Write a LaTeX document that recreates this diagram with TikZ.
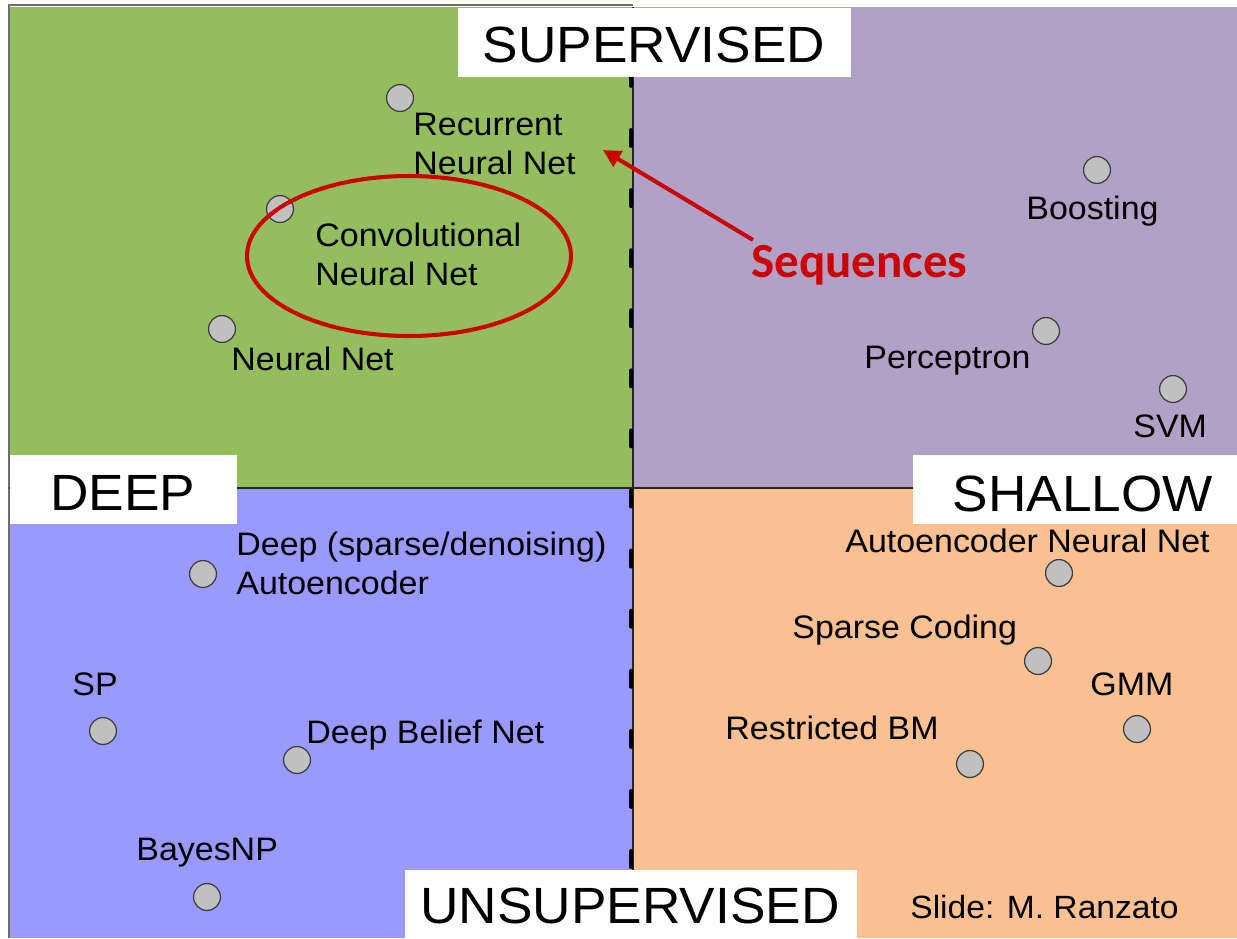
\documentclass[tikz,border=0pt]{standalone}
\usepackage{fontspec}
\setmainfont[FakeStretch=1.045]{Liberation Sans}
\newfontfamily\seqfont{Carlito}
\usetikzlibrary{arrows.meta}
\definecolor{qgreen}{RGB}{148,189,94}
\definecolor{qpurple}{RGB}{177,161,199}
\definecolor{qblue}{RGB}{153,153,255}
\definecolor{qorange}{RGB}{249,192,146}
\definecolor{ptfill}{RGB}{192,192,192}
\definecolor{ptborder}{RGB}{60,60,60}
\definecolor{seqred}{RGB}{204,0,0}
\definecolor{framegrey}{RGB}{110,110,110}
\begin{document}
\begin{tikzpicture}[x=0.02cm,y=-0.02cm,
  pt/.style={circle,draw=ptborder,fill=ptfill,line width=0.7pt,minimum size=15.3pt,inner sep=0pt},
  lbl/.style={font=\fontsize{18.5}{22}\selectfont,inner sep=0pt,anchor=base west},
  headtxt/.style={font=\fontsize{29}{34}\selectfont,inner sep=0pt,anchor=base},
  headbox/.style={fill=white},
  divider/.style={draw=black!85,line width=0.6pt},
  dashdiv/.style={draw=black,line width=2.3pt,line cap=round,dash pattern=on 9pt off 25.2pt},
  redline/.style={draw=seqred,line width=2.3pt}]
\useasboundingbox (0,0) rectangle (1237,938);
\fill[white] (0,0) rectangle (1237,938);
% quadrants
\fill[qgreen] (10,7) rectangle (633,488);
\fill[qpurple] (633,7) rectangle (1237,488);
\fill[qblue] (10,488) rectangle (633,938);
\fill[qorange] (633,488) rectangle (1237,938);
% frame and dividers
\draw[framegrey,line width=0.6pt] (9,938) -- (9,5) -- (633,5);
\draw[divider] (633,7) -- (633,938);
\draw[divider] (9,488) -- (1237,488);
\draw[dashdiv] (631,70) -- (631,870);
% header boxes
\fill[headbox] (458,8) rectangle (851,77);
\node[headtxt] (sup) at (654,62) {SUPERVISED};
\fill[headbox] (10,455) rectangle (237,524);
\node[headtxt] (deep) at (123,510) {DEEP};
\fill[headbox] (913,455) rectangle (1237,524);
\node[headtxt] (shallow) at (1083,511) {SHALLOW};
\fill[headbox] (405,870) rectangle (857,938);
\node[headtxt] (unsup) at (630,923) {UNSUPERVISED};
% points
\node[pt] (p-rnn) at (400,98) {};
\node[pt] (p-cnn) at (280,209) {};
\node[pt] (p-nn) at (222,329) {};
\node[pt] (p-boost) at (1097,170) {};
\node[pt] (p-perc) at (1046,331) {};
\node[pt] (p-svm) at (1173,389) {};
\node[pt] (p-dae) at (203,574) {};
\node[pt] (p-sp) at (103,731) {};
\node[pt] (p-dbn) at (297,760) {};
\node[pt] (p-bnp) at (207,897) {};
\node[pt] (p-ae) at (1059,573) {};
\node[pt] (p-sc) at (1038,661) {};
\node[pt] (p-gmm) at (1137,729) {};
\node[pt] (p-rbm) at (970,764) {};
% labels
\node[lbl] (l-rnn1) at (413,135) {Recurrent};
\node[lbl] (l-rnn2) at (413,174) {Neural Net};
\node[lbl] (l-cnn1) at (315,246) {Convolutional};
\node[lbl] (l-cnn2) at (315,285) {Neural Net};
\node[lbl] (l-nn) at (231,370) {Neural Net};
\node[lbl] (l-boost) at (1026,219) {Boosting};
\node[lbl] (l-perc) at (864,368) {Perceptron};
\node[lbl] (l-svm) at (1133,437) {SVM};
\node[lbl] (l-dae1) at (236,555) {Deep (sparse/denoising)};
\node[lbl] (l-dae2) at (236,594) {Autoencoder};
\node[lbl] (l-sp) at (72,695) {SP};
\node[lbl] (l-dbn) at (306,743) {Deep Belief Net};
\node[lbl] (l-bnp) at (136,860) {BayesNP};
\node[lbl] (l-ae) at (845,552) {Autoencoder Neural Net};
\node[lbl] (l-sc) at (792,638) {Sparse Coding};
\node[lbl] (l-gmm) at (1090,695) {GMM};
\node[lbl] (l-rbm) at (725,739) {Restricted BM};
\node[lbl,font=\fontsize{18.3}{21}\selectfont] (slide) at (910,918) {Slide: M. Ranzato};
% highlight ellipse
\draw[redline] (409,256) ellipse [x radius=162, y radius=80];
% sequences annotation
\node[inner sep=0pt,anchor=base west,text=seqred,font=\seqfont\bfseries\fontsize{27.9}{33}\selectfont] (seq) at (751,277) {Sequences};
\coordinate (seqtail) at (753,240);
\coordinate (seqtip) at (603,150);
\draw[redline,-{Triangle[length=10pt,width=10pt]}] (seqtail) -- (seqtip);
\end{tikzpicture}
\end{document}
